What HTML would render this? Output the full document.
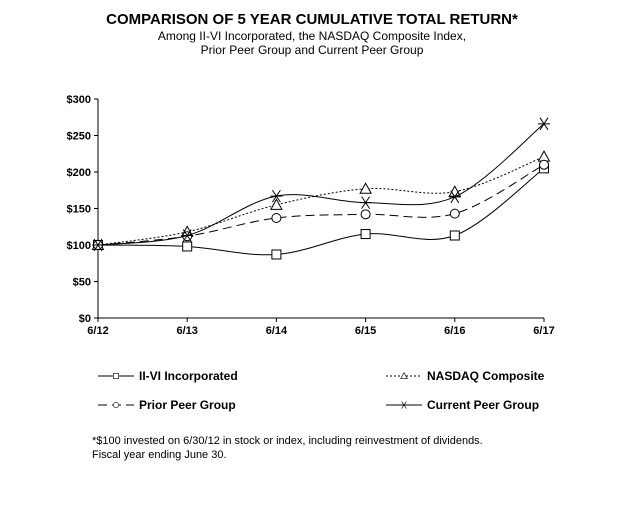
<!DOCTYPE html>
<html><head><meta charset="utf-8">
<style>
body{margin:0;background:#fff;font-family:"Liberation Sans",Arial,sans-serif;}
svg{display:block}
</style></head>
<body>
<svg id="chart" width="624" height="519" viewBox="0 0 624 519" xmlns="http://www.w3.org/2000/svg" font-family="Liberation Sans, Arial, sans-serif">
<text x="312" y="24" text-anchor="middle" font-size="15" font-weight="bold">COMPARISON OF 5 YEAR CUMULATIVE TOTAL RETURN*</text>
<text x="312" y="40" text-anchor="middle" font-size="12">Among II-VI  Incorporated, the NASDAQ  Composite Index,</text>
<text x="312" y="54" text-anchor="middle" font-size="12">Prior Peer Group and Current Peer Group</text>
<g id="axes"></g>
<g id="series"></g>
<g id="legend" font-size="12" font-weight="bold"></g>
<text x="92" y="444" font-size="11">*$100 invested on 6/30/12 in stock or index, including reinvestment of dividends.</text>
<text x="92" y="458" font-size="11">Fiscal year ending June 30.</text>
</svg>
<script>
const categories = ["6/12","6/13","6/14","6/15","6/16","6/17"];
const yTicks = [0,50,100,150,200,250,300];
const iiviValues = [100,98,87,115,113,205];
const nasdaqValues = [100,118,155,177,173,221];
const priorPeerValues = [100,112,137,142,143,210];
const currentPeerValues = [100,113,167,158,166,266];
const seriesNames = ["II-VI Incorporated","NASDAQ Composite","Prior Peer Group","Current Peer Group"];

const NS="http://www.w3.org/2000/svg";
const x0=98,x1=544,yBase=318,yTop=99,yMax=300;
const xs=i=>x0+i*(x1-x0)/(categories.length-1);
const ys=v=>yBase-v*(yBase-yTop)/yMax;
function mk(t,a,p){const e=document.createElementNS(NS,t);for(const k in a)e.setAttribute(k,a[k]);(p||document.getElementById('chart')).appendChild(e);return e;}
const axes=document.getElementById('axes');
let yl=mk('line',{x1:x0,y1:yTop,x2:x0,y2:yBase,stroke:'#000','stroke-width':1},axes);


let xl=mk('line',{x1:x0,y1:yBase,x2:x1,y2:yBase,stroke:'#000','stroke-width':1},axes);


yTicks.forEach(v=>{
  mk('line',{x1:x0-4,y1:ys(v),x2:x0,y2:ys(v),stroke:'#000'},axes);
  const t=mk('text',{x:x0-7,y:ys(v)+4,'text-anchor':'end','font-size':11,'font-weight':'bold'},axes);
  t.textContent='$'+v;
  
  
});
categories.forEach((c,i)=>{
  mk('line',{x1:xs(i),y1:yBase,x2:xs(i),y2:yBase+4,stroke:'#000'},axes);
  const t=mk('text',{x:xs(i),y:yBase+16,'text-anchor':'middle','font-size':11,'font-weight':'bold'},axes);
  t.textContent=c;
  
  
});
function smooth(pts){
  let d=`M${pts[0][0]},${pts[0][1]}`;
  for(let i=0;i<pts.length-1;i++){
    const p0=pts[i-1]||pts[i],p1=pts[i],p2=pts[i+1],p3=pts[i+2]||p2;
    const c1=[p1[0]+(p2[0]-p0[0])/6,p1[1]+(p2[1]-p0[1])/6];
    const c2=[p2[0]-(p3[0]-p1[0])/6,p2[1]-(p3[1]-p1[1])/6];
    d+=` C${c1[0]},${c1[1]} ${c2[0]},${c2[1]} ${p2[0]},${p2[1]}`;
  }
  return d;
}
function marker(type,x,y,g){
  if(type==='square') mk('rect',{x:x-4.5,y:y-4.5,width:9,height:9,fill:'#fff',stroke:'#000'},g);
  else if(type==='triangle') mk('path',{d:`M${x},${y-5.5} L${x+5.5},${y+4.5} L${x-5.5},${y+4.5} Z`,fill:'#fff',stroke:'#000'},g);
  else if(type==='circle') mk('circle',{cx:x,cy:y,r:4.5,fill:'#fff',stroke:'#000'},g);
  else mk('path',{d:`M${x-6},${y} L${x+6},${y} M${x-4},${y-6} L${x+4},${y+6} M${x+4},${y-6} L${x-4},${y+6}`,stroke:'#000',fill:'none'},g);
}
const defs=[
 {vals:iiviValues,dash:'',m:'square',name:'series-ii-vi'},
 {vals:nasdaqValues,dash:'2,2',m:'triangle',name:'series-nasdaq'},
 {vals:priorPeerValues,dash:'9,5',m:'circle',name:'series-prior-peer'},
 {vals:currentPeerValues,dash:'',m:'star',name:'series-current-peer'}
];
const sg=document.getElementById('series');
defs.forEach(s=>{
  const g=mk('g',{},sg);
  
  
  const pts=s.vals.map((v,i)=>[xs(i),ys(v)]);
  const p=mk('path',{d:smooth(pts),fill:'none',stroke:'#000','stroke-width':1,'stroke-dasharray':s.dash},g);
  
  
  pts.forEach(q=>marker(s.m,q[0],q[1],g));
});
const lg=document.getElementById('legend');
const lpos=[[98,376],[386,376],[98,405],[386,405]];
defs.forEach((s,i)=>{
  const [lx,ly]=lpos[i];
  const g=mk('g',{},lg);
  
  
  mk('line',{x1:lx,y1:ly,x2:lx+36,y2:ly,stroke:'#000','stroke-dasharray':s.dash},g);
  const gm=mk('g',{transform:`translate(${lx+18},${ly}) scale(0.6) translate(${-(lx+18)},${-ly})`},g);
  marker(s.m,lx+18,ly,gm);
  const t=mk('text',{x:lx+41,y:ly+4},g);
  t.textContent=seriesNames[i];
});
</script>
</body></html>
